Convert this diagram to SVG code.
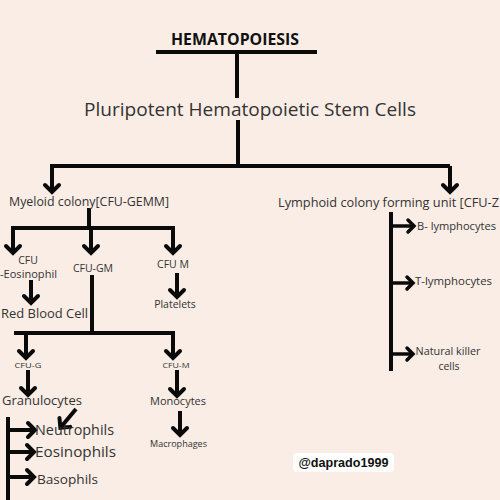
<svg xmlns="http://www.w3.org/2000/svg" width="500" height="500" viewBox="0 0 500 500">
<defs>
<marker id="ah" viewBox="-10 -10 20 20" refX="-1" refY="0" markerUnits="userSpaceOnUse" markerWidth="20" markerHeight="20" orient="auto">
<path d="M-7,-7 L0,0 L-7,7" fill="none" stroke="#0a0a0a" stroke-width="4" stroke-linejoin="miter" stroke-linecap="round"/>
</marker>
<marker id="as" viewBox="-10 -10 20 20" refX="-1" refY="0" markerUnits="userSpaceOnUse" markerWidth="20" markerHeight="20" orient="auto">
<path d="M-6,-6 L0,0 L-6,6" fill="none" stroke="#0a0a0a" stroke-width="3.5" stroke-linejoin="miter" stroke-linecap="round"/>
</marker>
<style>
.ln{stroke:#0a0a0a;stroke-width:4;fill:none}
.ar{stroke:#0a0a0a;stroke-width:4;fill:none;marker-end:url(#ah)}
.sa{stroke:#0a0a0a;stroke-width:3.5;fill:none;marker-end:url(#as)}
.t{font-family:"Open Sans","Noto Sans","DejaVu Sans",sans-serif;fill:#333}
.c{text-anchor:middle}
</style>
</defs>
<rect width="500" height="500" fill="#faede5"/>
<g id="connectors">
<line class="ln" x1="156" y1="52" x2="317" y2="52"/>
<line class="ln" x1="237" y1="52" x2="237" y2="98"/>
<line class="ln" x1="238" y1="120" x2="238" y2="166"/>
<line class="ln" x1="50" y1="166" x2="450" y2="166"/>
<line class="ar" x1="52" y1="166" x2="52" y2="191"/>
<line class="ar" x1="450" y1="166" x2="450" y2="191"/>
<line class="ln" x1="89" y1="208" x2="89" y2="229"/>
<line class="ln" x1="11" y1="228" x2="175" y2="228"/>
<line class="ar" x1="13" y1="228" x2="13" y2="252"/>
<line class="ar" x1="91" y1="228" x2="91" y2="252"/>
<line class="ar" x1="173" y1="228" x2="173" y2="252"/>
<line class="ar" x1="31" y1="280" x2="31" y2="302"/>
<line class="ar" x1="177" y1="273" x2="177" y2="296"/>
<line class="ln" x1="92" y1="275" x2="92" y2="333"/>
<line class="ln" x1="14" y1="333" x2="175" y2="333"/>
<line class="ar" x1="26" y1="333" x2="26" y2="357"/>
<line class="ar" x1="173" y1="333" x2="173" y2="357"/>
<line class="ar" x1="28" y1="370" x2="28" y2="394"/>
<line class="ar" x1="177" y1="370" x2="177" y2="395"/>
<line class="ar" x1="180" y1="411" x2="180" y2="434"/>
<line class="ar" x1="76" y1="409" x2="61" y2="427"/>
<line class="ln" x1="8" y1="417" x2="8" y2="500"/>
<line class="ar" x1="8" y1="430" x2="34" y2="430"/>
<line class="ar" x1="8" y1="452" x2="33" y2="452"/>
<line class="ar" x1="8" y1="477" x2="33" y2="477"/>
<line class="ln" x1="391" y1="212" x2="391" y2="371"/>
<line class="sa" x1="391" y1="226" x2="413" y2="226"/>
<line class="sa" x1="391" y1="283" x2="412" y2="283"/>
<line class="sa" x1="391" y1="354" x2="412" y2="354"/>
</g>
<g id="title"><text x="235" y="45" font-family="'Open Sans','Liberation Sans',sans-serif" font-weight="bold" font-size="15.5" fill="#111" text-anchor="middle" textLength="128" lengthAdjust="spacingAndGlyphs">HEMATOPOIESIS</text></g>
<g id="stem"><text class="t" x="84" y="116" font-size="19" textLength="332" lengthAdjust="spacingAndGlyphs">Pluripotent Hematopoietic Stem Cells</text></g>
<g id="myeloid"><text class="t" x="9" y="206" font-size="12.5" textLength="160" lengthAdjust="spacingAndGlyphs">Myeloid colony[CFU-GEMM]</text></g>
<g id="lymphoid"><text class="t" x="278" y="207" font-size="13.5" textLength="221" lengthAdjust="spacingAndGlyphs">Lymphoid colony forming unit [CFU-Z</text></g>
<g id="cfu-eos"><text class="t c" x="28" y="264" font-size="10.5">CFU</text><text class="t" x="0" y="278" font-size="10.5" textLength="57" lengthAdjust="spacingAndGlyphs">-Eosinophil</text></g>
<g id="cfu-gm"><text class="t c" x="93" y="272" font-size="10.5">CFU-GM</text></g>
<g id="cfu-m1"><text class="t c" x="173" y="268" font-size="10.5">CFU M</text></g>
<g id="rbc"><text class="t" x="1" y="318" font-size="13" textLength="87" lengthAdjust="spacingAndGlyphs">Red Blood Cell</text></g>
<g id="platelets"><text class="t c" x="175" y="308" font-size="10.5">Platelets</text></g>
<g id="cfu-g"><text class="t c" x="28" y="368" font-size="8" textLength="27" lengthAdjust="spacingAndGlyphs">CFU-G</text></g>
<g id="cfu-m2"><text class="t c" x="176" y="368" font-size="8" textLength="27" lengthAdjust="spacingAndGlyphs">CFU-M</text></g>
<g id="granulocytes"><text class="t" x="2" y="405" font-size="13" textLength="80" lengthAdjust="spacingAndGlyphs">Granulocytes</text></g>
<g id="monocytes"><text class="t" x="150" y="405" font-size="10.5" textLength="56" lengthAdjust="spacingAndGlyphs">Monocytes</text></g>
<g id="macrophages"><text class="t" x="150" y="447" font-size="8.5" textLength="57" lengthAdjust="spacingAndGlyphs">Macrophages</text></g>
<g id="neutrophils"><text class="t" x="35" y="435" font-size="14" fill="#222" textLength="79" lengthAdjust="spacingAndGlyphs">Neutrophils</text></g>
<g id="eosinophils"><text class="t" x="35" y="457" font-size="14" textLength="81" lengthAdjust="spacingAndGlyphs">Eosinophils</text></g>
<g id="basophils"><text class="t" x="37" y="484" font-size="13" textLength="61" lengthAdjust="spacingAndGlyphs">Basophils</text></g>
<g id="b-lymph"><text class="t" x="417" y="230" font-size="10.5" textLength="79" lengthAdjust="spacingAndGlyphs">B- lymphocytes</text></g>
<g id="t-lymph"><text class="t" x="415" y="285" font-size="10.5" textLength="77" lengthAdjust="spacingAndGlyphs">T-lymphocytes</text></g>
<g id="nk"><text class="t c" x="448" y="355" font-size="10.5" textLength="65" lengthAdjust="spacingAndGlyphs">Natural killer</text><text class="t c" x="449" y="370" font-size="10.5">cells</text></g>
<g id="watermark"><rect x="293" y="453" width="101" height="19" rx="4" fill="#ffffff"/><text x="343.5" y="467" font-family="'Liberation Sans',Arial,sans-serif" font-weight="bold" font-size="12.5" fill="#111" text-anchor="middle" textLength="90" lengthAdjust="spacingAndGlyphs">@daprado1999</text></g>
</svg>
